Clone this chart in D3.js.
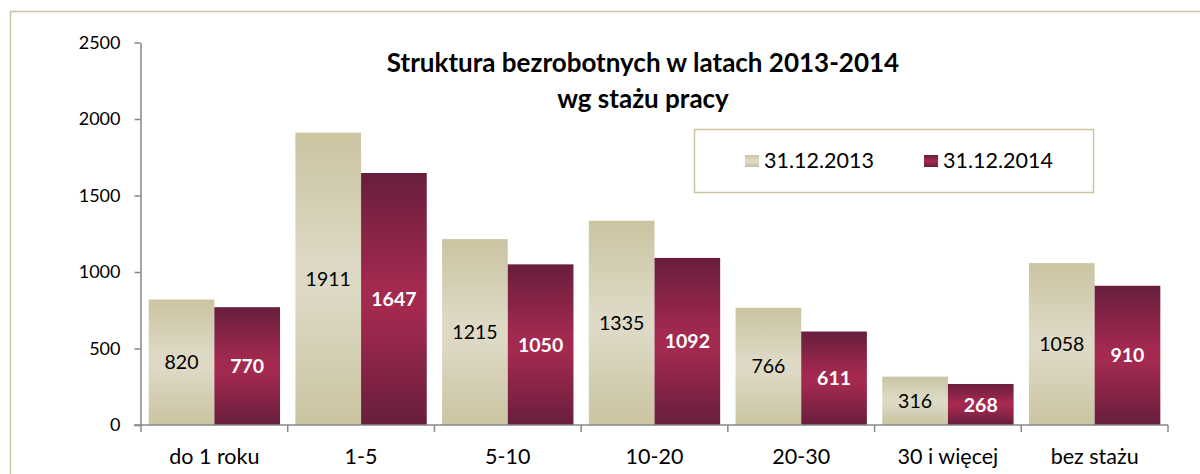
<!DOCTYPE html>
<html>
<head>
<meta charset="utf-8">
<script src="https://cdn.jsdelivr.net/npm/d3@7"></script>
<style>
  html, body { margin: 0; padding: 0; background: #fff; overflow: hidden; }
  svg { display: block; font-family: Lato, "Open Sans", sans-serif; }
</style>
</head>
<body>
<svg id="chart" width="1200" height="474"></svg>
<script>
const categories = ["do 1 roku", "1-5", "5-10", "10-20", "20-30", "30 i więcej", "bez stażu"];
const seriesNames = ["31.12.2013", "31.12.2014"];
const values2013 = [820, 1911, 1215, 1335, 766, 316, 1058];
const values2014 = [770, 1647, 1050, 1092, 611, 268, 910];
const yTicks = [0, 500, 1000, 1500, 2000, 2500];
const titleLines = ["Struktura bezrobotnych w latach 2013-2014", "wg stażu pracy"];

const seriesValues = [values2013, values2014];
const data = categories.map((c, i) => ({ cat: c, vals: seriesNames.map((s, j) => ({ s, j, v: seriesValues[j][i] })) }));

const svg = d3.select("#chart");
const defs = svg.append("defs");
const grads = [
  { id: "g2013", stops: [["0%", "#cac4a1"], ["45%", "#ddd9c5"], ["55%", "#ddd9c5"], ["100%", "#cac4a1"]] },
  { id: "g2014", stops: [["0%", "#681e3d"], ["45%", "#a3294f"], ["55%", "#a3294f"], ["100%", "#681e3d"]] }
];
grads.forEach(g => {
  const lg = defs.append("linearGradient").attr("id", g.id)
    .attr("x1", 0).attr("y1", 0).attr("x2", 0).attr("y2", 1);
  g.stops.forEach(s => lg.append("stop").attr("offset", s[0]).attr("stop-color", s[1]));
});

// outer frame (cut off at right and bottom)
svg.append("rect").attr("x", 10.5).attr("y", 11.5).attr("width", 1300).attr("height", 600)
  .attr("fill", "#fff").attr("stroke", "#cbc4a2").attr("stroke-width", 1.5);

const x = d3.scaleBand().domain(categories).range([141, 1168]).padding(0);
const xs = d3.scaleBand().domain(seriesNames).range([0, x.bandwidth()]).paddingInner(0).paddingOuter(0.117);
const y = d3.scaleLinear().domain([0, 2500]).range([425, 42.5]);

// bars
const g = svg.append("g");
const groups = g.selectAll("g.cat").data(data).join("g").attr("class", "cat")
  .attr("transform", d => `translate(${x(d.cat)},0)`);
groups.selectAll("rect").data(d => d.vals).join("rect")
  .attr("x", d => xs(d.s))
  .attr("y", d => y(d.v))
  .attr("width", xs.bandwidth())
  .attr("height", d => y(0) - y(d.v))
  .attr("fill", d => `url(#${grads[d.j].id})`);
groups.selectAll("text").data(d => d.vals).join("text")
  .attr("x", d => xs(d.s) + xs.bandwidth() / 2)
  .attr("y", d => (y(0) + y(d.v)) / 2)
  .attr("dy", "0.36em")
  .attr("text-anchor", "middle")
  .attr("font-size", 19.5)
  .attr("font-weight", d => d.j === 1 ? "bold" : "normal")
  .attr("fill", d => d.j === 1 ? "#fff" : "#000")
  .text(d => d.v);

// y axis
const yAxis = svg.append("g").attr("transform", "translate(140.5,0)")
  .call(d3.axisLeft(y).tickValues(yTicks).tickFormat(d3.format("d")).tickSize(6).tickSizeOuter(0).tickPadding(14));
yAxis.select(".domain").attr("stroke", "#878787").attr("stroke-width", 1.5);
yAxis.selectAll(".tick line").attr("stroke", "#878787").attr("stroke-width", 1.5);
yAxis.selectAll(".tick text").attr("font-size", 18).attr("font-family", "Lato, sans-serif").attr("fill", "#000");

// x axis
const xAxisG = svg.append("g").attr("transform", "translate(0,425)");
xAxisG.append("line").attr("x1", 134).attr("x2", 1168).attr("y1", 0).attr("y2", 0)
  .attr("stroke", "#878787").attr("stroke-width", 1.5);
const bounds = categories.map(c => x(c)).concat([x.range()[1]]);
xAxisG.selectAll("line.tk").data(bounds).join("line").attr("class", "tk")
  .attr("x1", d => d).attr("x2", d => d).attr("y1", 0).attr("y2", 7)
  .attr("stroke", "#878787").attr("stroke-width", 1.5);
xAxisG.selectAll("text").data(categories).join("text")
  .attr("x", d => x(d) + x.bandwidth() / 2)
  .attr("y", 39)
  .attr("text-anchor", "middle")
  .attr("font-size", 21.5)
  .attr("fill", "#000")
  .text(d => d);

// title
svg.append("g").selectAll("text").data(titleLines).join("text")
  .attr("x", 643).attr("y", (d, i) => 72 + i * 36)
  .attr("text-anchor", "middle")
  .attr("font-size", 26).attr("font-weight", "bold").attr("fill", "#000")
  .text(d => d);

// legend
const lg = svg.append("g");
lg.append("rect").attr("x", 694.5).attr("y", 129.5).attr("width", 399).attr("height", 63)
  .attr("fill", "#fff").attr("stroke", "#cbc4a2").attr("stroke-width", 1.5);
const legendX = [745, 924];
const li = lg.selectAll("g.li").data(seriesNames).join("g").attr("class", "li")
  .attr("transform", (d, i) => `translate(${legendX[i]},155)`);
li.append("rect").attr("width", 14).attr("height", 12).attr("fill", (d, i) => `url(#${grads[i].id})`);
li.append("text").attr("x", 19).attr("y", 13).attr("font-size", 21.5).attr("fill", "#000").text(d => d);
</script>
</body>
</html>
